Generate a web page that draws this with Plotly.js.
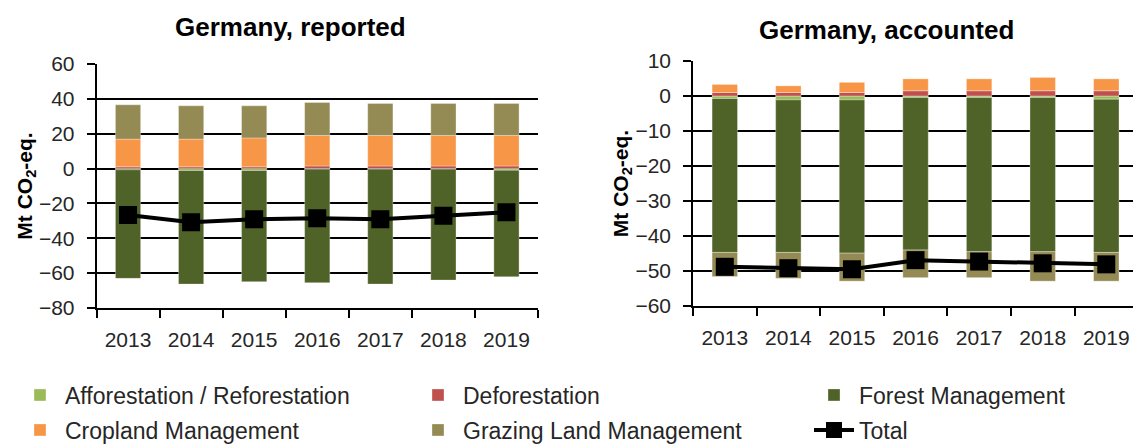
<!DOCTYPE html>
<html>
<head>
<meta charset="utf-8">
<script src="https://cdn.plot.ly/plotly-3.0.1.min.js"></script>
<style>html,body{margin:0;padding:0;background:#fff;overflow:hidden;} #chart{width:1133px;height:470px;}</style>
</head>
<body>
<div id="chart"></div>
<script>
// ---- data ----
const years = ['2013', '2014', '2015', '2016', '2017', '2018', '2019'];
const seriesNames = ['Afforestation / Reforestation', 'Deforestation', 'Forest Management', 'Cropland Management', 'Grazing Land Management', 'Total'];

// Germany, reported (Mt CO2-eq.)
const repAR = [-0.7, -1.1, -1.1, -0.4, -0.4, -0.4, -0.9];
const repD = [1.0, 1.0, 1.0, 1.5, 1.5, 1.5, 1.5];
const repFM = [-62.3, -65.2, -63.8, -65.1, -65.9, -63.6, -61.2];
const repCM = [15.9, 15.9, 16.6, 17.5, 17.5, 17.5, 17.5];
const repGM = [19.7, 19.1, 18.4, 18.9, 18.4, 18.4, 18.4];
const repTotal = [-26.6, -30.8, -29.1, -28.5, -29.1, -27.0, -25.1];

// Germany, accounted (Mt CO2-eq.)
const accAR = [-0.7, -1.1, -1.1, -0.4, -0.4, -0.4, -0.9];
const accD = [1.0, 1.0, 1.0, 1.5, 1.5, 1.5, 1.5];
const accFM = [-44.0, -43.6, -43.8, -43.6, -44.1, -44.1, -43.8];
const accCM = [2.3, 1.9, 2.9, 3.4, 3.4, 3.8, 3.4];
const accGM = [-6.9, -7.4, -8.0, -7.9, -7.4, -8.4, -8.2];
const accTotal = [-48.8, -49.2, -49.5, -46.9, -47.3, -47.8, -48.1];

// ---- styles ----
const colors = ['#9BBB59', '#C0504D', '#4F6228', '#F79646', '#948A54', '#000000'];
const legendIds = ['legend', 'legend2', 'legend3', 'legend4', 'legend5', 'legend6'];
const FONT = '"Liberation Sans", Arial, sans-serif';
const TXT = '#262626';

function buildTraces(barSets, total, xa, ya, showLeg) {
  const tr = barSets.map((vals, i) => ({
    type: 'bar', x: years, y: vals, name: seriesNames[i],
    xaxis: xa, yaxis: ya, legendgroup: 'g' + i, showlegend: showLeg, legend: legendIds[i],
    marker: {color: colors[i], line: {color: 'rgba(255,255,255,0.55)', width: 0.6}},
    hoverinfo: 'x+y+name'
  }));
  tr.push({
    type: 'scatter', mode: 'lines+markers', x: years, y: total, name: seriesNames[5],
    xaxis: xa, yaxis: ya, legendgroup: 'g5', showlegend: showLeg, legend: legendIds[5],
    line: {color: '#000', width: 4},
    marker: {symbol: 'square', size: 18, color: '#000'}
  });
  return tr;
}

const data = [].concat(
  buildTraces([repAR, repD, repFM, repCM, repGM], repTotal, 'x', 'y', true),
  buildTraces([accAR, accD, accFM, accCM, accGM], accTotal, 'x2', 'y2', false)
);

// figure is a little taller than the 445px window so the bottom legend row never pushes the margins
const H = 470, W = 1133;
const py = p => 1 - p / H;
const px = p => p / W;

const xBase = {
  type: 'category', showline: true, linecolor: '#000', linewidth: 1.5,
  ticks: 'outside', tickson: 'boundaries', ticklen: 8, tickcolor: '#000', tickwidth: 1.5,
  showgrid: false, tickfont: {family: FONT, size: 21, color: TXT}, ticklabelstandoff: 12,
  fixedrange: true
};
const yBase = {
  showline: true, linecolor: '#000', linewidth: 1.5,
  ticks: 'outside', ticklen: 8, tickcolor: '#000', tickwidth: 1.5,
  showgrid: true, gridcolor: '#000', gridwidth: 1.5,
  zeroline: true, zerolinecolor: '#000', zerolinewidth: 1.5,
  tickfont: {family: FONT, size: 21, color: TXT}, ticklabelstandoff: 8,
  title: {text: '<b>Mt CO<sub>2</sub>-eq.</b>', font: {family: FONT, size: 21, color: '#000'}, standoff: 1},
  fixedrange: true
};

// one legend per entry, laid out in the reference's 3-column grid
const legCols = [15, 413, 809];
const legRows = [395, 430];
const legendStyle = (col, row) => ({
  orientation: 'v', x: px(legCols[col]), xanchor: 'left', y: py(legRows[row]), yanchor: 'middle',
  itemwidth: 40, font: {family: FONT, size: 23, color: TXT}, bgcolor: 'rgba(0,0,0,0)', borderwidth: 0
});

const layout = {
  width: W, height: H,
  margin: {l: 0, r: 0, t: 0, b: 0},
  paper_bgcolor: '#fff', plot_bgcolor: '#fff',
  barmode: 'relative', bargap: 0.6,
  font: {family: FONT, color: TXT},
  xaxis: Object.assign({}, xBase, {domain: [px(96.5), px(538)], anchor: 'y', range: [-0.5, 6.5]}),
  yaxis: Object.assign({}, yBase, {domain: [py(308), py(64)], anchor: 'x', range: [-80, 60], dtick: 20}),
  xaxis2: Object.assign({}, xBase, {domain: [px(693), 1], anchor: 'y2', range: [-0.5, 6.42]}),
  yaxis2: Object.assign({}, yBase, {domain: [py(306), py(61)], anchor: 'x2', range: [-60, 10], dtick: 10}),
  annotations: [
    {text: '<b>Germany, reported</b>', xref: 'paper', yref: 'paper', x: px(290), y: py(27),
     xanchor: 'center', yanchor: 'middle', showarrow: false, font: {family: FONT, size: 26, color: '#000'}},
    {text: '<b>Germany, accounted</b>', xref: 'paper', yref: 'paper', x: px(886), y: py(30),
     xanchor: 'center', yanchor: 'middle', showarrow: false, font: {family: FONT, size: 26, color: '#000'}}
  ],
  legend: legendStyle(0, 0),
  legend2: legendStyle(1, 0),
  legend3: legendStyle(2, 0),
  legend4: legendStyle(0, 1),
  legend5: legendStyle(1, 1),
  legend6: legendStyle(2, 1)
};

Plotly.newPlot('chart', data, layout, {displayModeBar: false, responsive: false});
</script>
</body>
</html>
